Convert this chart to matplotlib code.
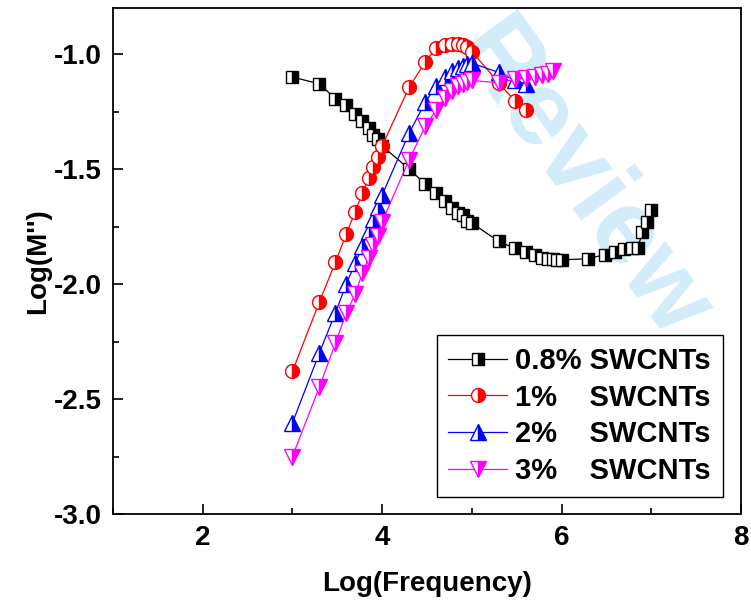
import numpy as np
import matplotlib
matplotlib.use("Agg")
from matplotlib import pyplot as plt
from matplotlib.ticker import MultipleLocator

plt.rcParams['font.family'] = ['Liberation Sans', 'DejaVu Sans']
plt.rcParams['font.weight'] = 'bold'
plt.rcParams['axes.unicode_minus'] = False

# log10 of the measuring frequencies
logf = [3.00, 3.30, 3.48, 3.60, 3.70, 3.78, 3.85, 3.90, 3.95, 4.00,
        4.30, 4.48, 4.60, 4.70, 4.78, 4.85, 4.90, 4.95, 5.00,
        5.30, 5.48, 5.60, 5.70, 5.78, 5.85, 5.90, 5.95, 6.00,
        6.30, 6.48, 6.60, 6.70, 6.78, 6.85, 6.90, 6.95, 7.00]

m08 = [-1.10, -1.13, -1.195, -1.22, -1.26, -1.29, -1.32, -1.35, -1.37, -1.40,
       -1.50, -1.565, -1.605, -1.64, -1.67, -1.69, -1.70, -1.725, -1.735,
       -1.815, -1.845, -1.862, -1.872, -1.885, -1.89, -1.893, -1.895, -1.895,
       -1.89, -1.872, -1.86, -1.847, -1.845, -1.845, -1.772, -1.73, -1.677]

m1 = [-2.38, -2.078, -1.905, -1.783, -1.685, -1.605, -1.537, -1.49, -1.447, -1.40,
      -1.145, -1.035, -0.975, -0.96, -0.955, -0.955, -0.96, -0.97, -0.99,
      -1.125, -1.205, -1.245]

m2 = [-2.604, -2.30, -2.125, -2.00, -1.91, -1.835, -1.77, -1.717, -1.665, -1.613,
      -1.345, -1.21, -1.14, -1.10, -1.075, -1.06, -1.05, -1.045, -1.04,
      -1.08, -1.115, -1.13]

m3 = [-2.75, -2.448, -2.257, -2.125, -2.045, -1.95, -1.888, -1.83, -1.79, -1.73,
      -1.46, -1.315, -1.245, -1.19, -1.16, -1.14, -1.13, -1.12, -1.115,
      -1.125, -1.11, -1.105, -1.10, -1.09, -1.085, -1.075]

labels = ['0.8% SWCNTs', '1%    SWCNTs', '2%    SWCNTs', '3%    SWCNTs']

fig = plt.figure(figsize=(7.51, 6.10), dpi=100)
ax = fig.add_axes([113/751, 1-514/610, 628/751, 506/610])

# watermark
ax.text(6.2, -1.56, 'Review', color='#d2ecfa', fontsize=76, fontweight='bold',
        rotation=-54, ha='center', va='center', zorder=0, clip_on=False)

ax.plot(logf, m08, color='black', lw=0.9, marker='s', ms=8.5, mew=1.0,
        mec='black', mfc='black', markerfacecoloralt='white', fillstyle='right',
        label=labels[0])
ax.plot(logf[:len(m1)], m1, color='red', lw=0.9, marker='o', ms=10, mew=1.0,
        mec='red', mfc='red', markerfacecoloralt='white', fillstyle='right',
        label=labels[1])
ax.plot(logf[:len(m2)], m2, color='blue', lw=0.9, marker='^', ms=11, mew=1.0,
        mec='blue', mfc='blue', markerfacecoloralt='white', fillstyle='right',
        label=labels[2])
ax.plot(logf[:len(m3)], m3, color='magenta', lw=0.9, marker='v', ms=11, mew=1.0,
        mec='magenta', mfc='magenta', markerfacecoloralt='white', fillstyle='right',
        label=labels[3])

ax.set_xlim(1, 8)
ax.set_ylim(-3.0, -0.8)
ax.xaxis.set_major_locator(MultipleLocator(2))
ax.xaxis.set_minor_locator(MultipleLocator(1))
ax.yaxis.set_major_locator(MultipleLocator(0.5))
ax.yaxis.set_minor_locator(MultipleLocator(0.25))
ax.tick_params(which='both', direction='in', top=False, right=False, width=1.2)
ax.tick_params(which='major', length=7, labelsize=20, pad=8)
ax.tick_params(which='minor', length=4)
for s in ax.spines.values():
    s.set_linewidth(1.3)

ax.set_xlabel('Log(Frequency)', fontsize=20, fontweight='bold', labelpad=14)
ax.set_ylabel("Log(M'')", fontsize=20, fontweight='bold', labelpad=2)

leg = ax.legend(loc='lower right', bbox_to_anchor=(0.971, 0.034), borderaxespad=0,
                fontsize=21, numpoints=1, handlelength=2.0, handletextpad=0.3,
                labelspacing=0.3, borderpad=0.4, fancybox=False, framealpha=1)
leg.get_frame().set_edgecolor('black')
leg.get_frame().set_linewidth(1.0)

fig.savefig('out.png', dpi=100)
